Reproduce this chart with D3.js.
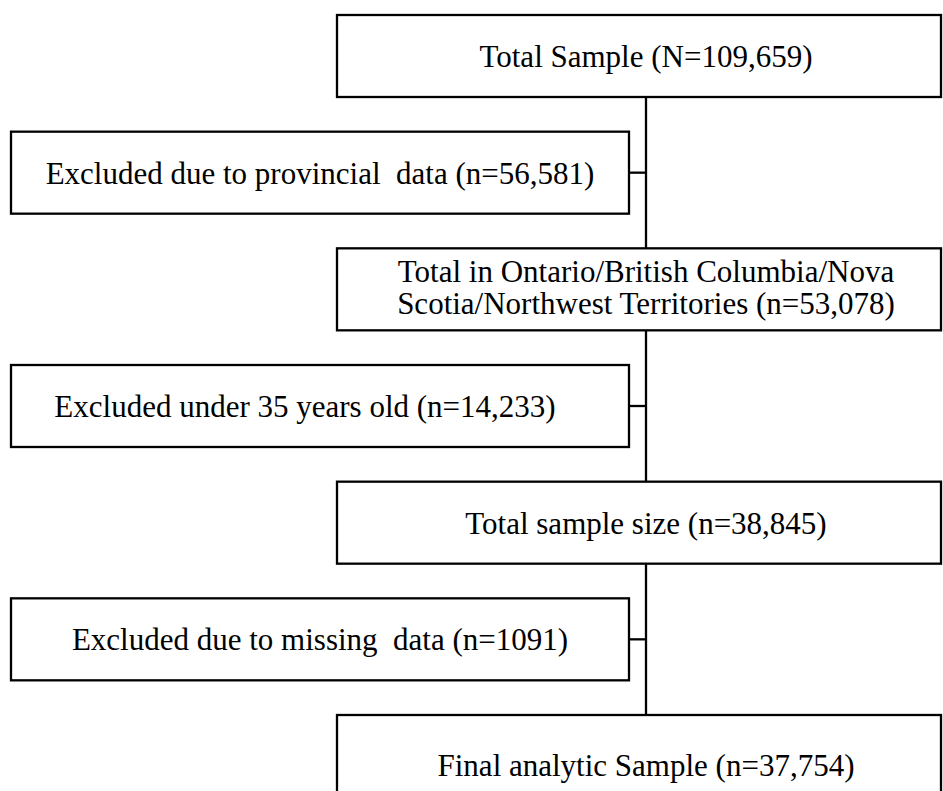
<!DOCTYPE html>
<html>
<head>
<meta charset="utf-8">
<script src="https://cdn.jsdelivr.net/npm/d3@7"></script>
<style>
  html, body { margin: 0; padding: 0; background: #fff; }
  svg { display: block; }
  text { font-family: "Liberation Serif", "Times New Roman", serif; white-space: pre; }
</style>
</head>
<body>
<svg id="chart" width="943" height="791"></svg>
<script>
// Flow chart content
const mainLabels = [
  ["Total Sample (N=109,659)"],
  ["Total in Ontario/British Columbia/Nova", "Scotia/Northwest Territories (n=53,078)"],
  ["Total sample size (n=38,845)"],
  ["Final analytic Sample (n=37,754)"]
];
const mainRows = [0, 2, 4, 6];
const excludedLabels = [
  "Excluded due to provincial  data (n=56,581)",
  "Excluded under 35 years old (n=14,233)",
  "Excluded due to missing  data (n=1091)"
];
const excludedRows = [1, 3, 5];

// layout (not data)
const excludedTextShift = [0, -15, 0];
const W = 943, H = 791;
const svg = d3.select("#chart");

const y = d3.scaleLinear().domain([0, 6]).range([15, 715]);
const boxH = 82;
const mainX0 = 337, mainX1 = 941;
const exX0 = 11, exX1 = 629;
const spineX = 646;
const fontSize = 31;
const lineGap = 32;
const sw = 2.3;

const mainData = mainLabels.map((lines, i) => ({
  lines, row: mainRows[i], dx: 0,
  h: i === mainLabels.length - 1 ? 100 : boxH
}));
const exData = excludedLabels.map((t, i) => ({ lines: [t], row: excludedRows[i], h: boxH, dx: excludedTextShift[i] }));

// spine segments between main boxes
const seg = svg.append("g");
for (let i = 0; i < mainData.length - 1; i++) {
  seg.append("line")
    .attr("x1", spineX).attr("x2", spineX)
    .attr("y1", y(mainData[i].row) + mainData[i].h)
    .attr("y2", y(mainData[i + 1].row))
    .attr("stroke", "#000").attr("stroke-width", sw);
}
// ticks from excluded boxes to spine
seg.selectAll("line.tick").data(exData).join("line")
  .attr("class", "tick")
  .attr("x1", exX1).attr("x2", spineX)
  .attr("y1", d => y(d.row) + d.h / 2)
  .attr("y2", d => y(d.row) + d.h / 2)
  .attr("stroke", "#000").attr("stroke-width", sw);

function drawBoxes(data, x0, x1, cls) {
  const g = svg.selectAll("g." + cls).data(data).join("g").attr("class", cls);
  g.append("rect")
    .attr("x", x0).attr("y", d => y(d.row))
    .attr("width", x1 - x0).attr("height", d => d.h)
    .attr("fill", "#fff").attr("stroke", "#000").attr("stroke-width", sw);
  const cx = (cls === "main") ? spineX : (x0 + x1) / 2;
  g.each(function(d) {
    const n = d.lines.length;
    const cy = y(d.row) + d.h / 2;
    d3.select(this).selectAll("text").data(d.lines).join("text")
      .attr("x", cx + d.dx)
      .attr("y", (t, j) => cy + 11 + (j - (n - 1) / 2) * lineGap - (n > 1 ? 2 : 0))
      .attr("text-anchor", "middle")
      .attr("font-size", fontSize)
      .attr("fill", "#000")
      .text(t => t);
  });
}
drawBoxes(mainData, mainX0, mainX1, "main");
drawBoxes(exData, exX0, exX1, "excl");
</script>
</body>
</html>
